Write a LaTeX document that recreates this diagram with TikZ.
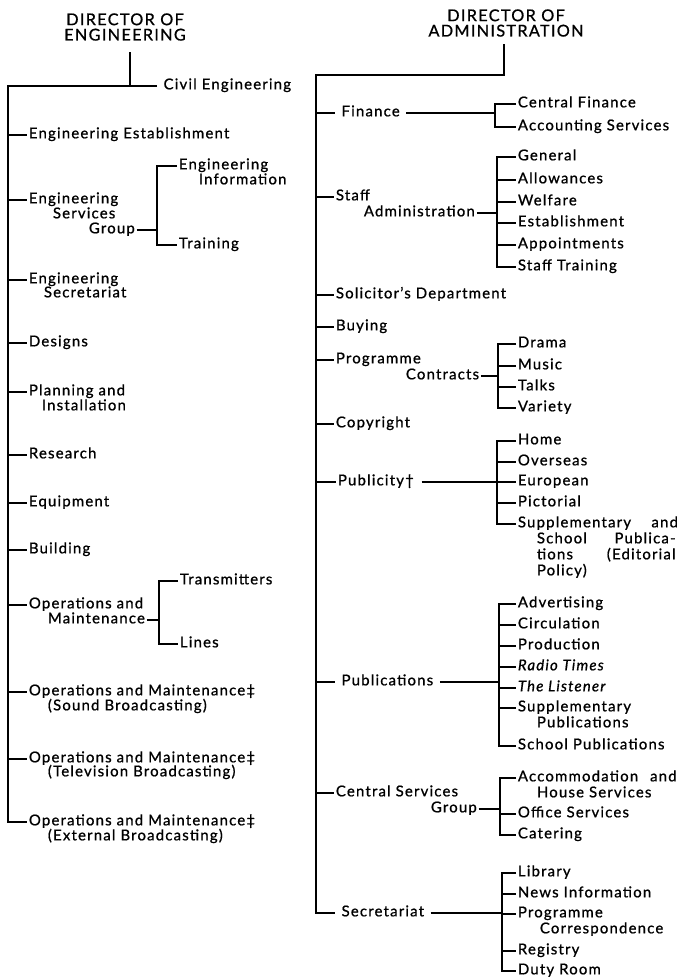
\documentclass[tikz,border=0pt]{standalone}
\usepackage{fontspec}
\setmainfont[LetterSpace=8, FakeBold=0.9]{Lato}

\begin{document}
\begin{tikzpicture}[x=0.75pt, y=-0.75pt, line width=0.9pt,
  font=\fontsize{11.2}{13}\selectfont,
  unit/.style={anchor=west, inner xsep=1pt, inner ysep=0pt, text height=5pt, text depth=0pt},
  spaced/.style={unit, inner xsep=4.5pt},
  title/.style={align=center, inner sep=0pt, font=\fontsize{12.2}{11.5}\selectfont}]
\useasboundingbox (0,0) rectangle (680,979);

% Directors:
\node[title] (eng) at (125,27) {DIRECTOR OF\\ENGINEERING};
\node[title] (admin) at (506,23) {DIRECTOR OF\\ADMINISTRATION};

% Engineering side:
\coordinate (ltrunk) at (8,0);
\coordinate (ljoin) at (130,86);
\coordinate (esgbr) at (157,0);
\coordinate (ombr) at (159,0);
\node[spaced] (civil) at (157,86) {Civil Engineering};
\node[unit] (estab) at (27,135) {Engineering Establishment};
\node[unit] (esg1) at (27,200) {Engineering};
\node[unit] (esg2) at (51,215) {Services};
\node[unit] (esg3) at (87,230) {Group};
\node[unit] (enginfo1) at (177,166) {Engineering};
\node[unit] (enginfo2) at (197,181) {Information};
\node[unit] (training) at (177,245) {Training};
\node[unit] (engsec1) at (27,280) {Engineering};
\node[unit] (engsec2) at (42,294) {Secretariat};
\node[unit] (designs) at (27,343) {Designs};
\node[unit] (plan1) at (27,392) {Planning and};
\node[unit] (plan2) at (40,407) {Installation};
\node[unit] (research) at (27,455) {Research};
\node[unit] (equip) at (27,503) {Equipment};
\node[unit] (building) at (27,550) {Building};
\node[unit] (om1) at (27,605) {Operations and};
\node[unit] (om2) at (46,620) {Maintenance};
\node[unit] (transm) at (178,581) {Transmitters};
\node[unit] (lines) at (178,644) {Lines};
\node[unit] (oms1) at (27,692) {Operations and Maintenance‡};
\node[unit] (oms2) at (46,707) {(Sound Broadcasting)};
\node[unit] (omt1) at (27,759) {Operations and Maintenance‡};
\node[unit] (omt2) at (46,773) {(Television Broadcasting)};
\node[unit] (ome1) at (27,822) {Operations and Maintenance‡};
\node[unit] (ome2) at (46,837) {(External Broadcasting)};

\draw (eng.south -| ljoin) ++(0,11) -- (ljoin);
\draw (civil.west) -- (ltrunk |- civil.west) -- (ltrunk |- ome1.west) -- (ome1.west);
\foreach \n in {estab,esg1,engsec1,designs,plan1,research,equip,building,om1,oms1,omt1}
  \draw (ltrunk |- \n.west) -- (\n.west);
\draw (esg3.east) -- (esgbr |- esg3.east);
\draw (enginfo1.west) -- (esgbr |- enginfo1.west) -- (esgbr |- training.west) -- (training.west);
\draw (om2.east) -- (ombr |- om2.east);
\draw (transm.west) -- (ombr |- transm.west) -- (ombr |- lines.west) -- (lines.west);

% Administration side:
\coordinate (rtrunk) at (316,0);
\coordinate (rjoin) at (504,75);
\coordinate (fbr) at (495,0);
\coordinate (sbr) at (497,0);
\coordinate (pcbr) at (498,0);
\coordinate (pbbr) at (497,0);
\coordinate (pubbr) at (499,0);
\coordinate (csbr) at (500,0);
\coordinate (secbr) at (502,0);
\node[spaced] (finance) at (335,113) {Finance};
\node[unit] (cfin) at (516,104) {Central Finance};
\node[unit] (acct) at (516,127) {Accounting Services};
\node[unit] (staff1) at (334,197) {Staff};
\node[unit] (staff2) at (362,213) {Administration};
\node[unit] (general) at (516,157) {General};
\node[unit] (allow) at (516,180) {Allowances};
\node[unit] (welfare) at (516,202) {Welfare};
\node[unit] (sestab) at (516,223) {Establishment};
\node[unit] (appoint) at (516,245) {Appointments};
\node[unit] (strain) at (516,267) {Staff Training};
\node[unit] (solicitor) at (334,295) {Solicitor’s Department};
\node[unit] (buying) at (334,327) {Buying};
\node[unit] (pc1) at (334,360) {Programme};
\node[unit] (pc2) at (404,376) {Contracts};
\node[unit] (drama) at (516,344) {Drama};
\node[unit] (music) at (516,366) {Music};
\node[unit] (talks) at (516,387) {Talks};
\node[unit] (variety) at (516,408) {Variety};
\node[unit] (copyright) at (334,424) {Copyright};
\node[unit] (publicity) at (336,482) {Publicity†};
\node[unit] (home) at (516,441) {Home};
\node[unit] (overseas) at (516,462) {Overseas};
\node[unit] (european) at (516,482) {European};
\node[unit] (pictorial) at (516,503) {Pictorial};
\node[unit] (sup1) at (516,524) {\makebox[120pt][s]{Supplementary and}};
\node[unit] (sup2) at (535,540) {\makebox[104pt][s]{School Publica-}};
\node[unit] (sup3) at (535,556) {\makebox[104pt][s]{tions (Editorial}};
\node[unit] (sup4) at (535,572) {Policy)};
\node[spaced] (publications) at (335,682) {Publications};
\node[unit] (advert) at (516,604) {Advertising};
\node[unit] (circ) at (516,625) {Circulation};
\node[unit] (prod) at (516,646) {Production};
\node[unit] (radio) at (516,667) {\itshape Radio Times};
\node[unit] (listener) at (516,688) {\itshape The Listener};
\node[unit] (supp1) at (516,708) {Supplementary};
\node[unit] (supp2) at (535,724) {Publications};
\node[unit] (school) at (516,746) {School Publications};
\node[unit] (csg1) at (334,793) {Central Services};
\node[unit] (csg2) at (429,809) {Group};
\node[unit] (accom1) at (516,778) {\makebox[119pt][s]{Accommodation and}};
\node[unit] (accom2) at (535,794) {House Services};
\node[unit] (office) at (516,814) {Office Services};
\node[unit] (catering) at (516,835) {Catering};
\node[spaced] (secretariat) at (335,913) {Secretariat};
\node[unit] (library) at (516,873) {Library};
\node[unit] (news) at (516,894) {News Information};
\node[unit] (pcorr1) at (516,914) {Programme};
\node[unit] (pcorr2) at (538,930) {Correspondence};
\node[unit] (registry) at (516,951) {Registry};
\node[unit] (duty) at (516,971) {Duty Room};

\draw (admin.south -| rjoin) ++(0,7) -- (rjoin) -- (rtrunk |- rjoin) -- (rtrunk |- secretariat.west) -- (secretariat.west);
\foreach \n in {finance,staff1,solicitor,buying,pc1,copyright,publicity,publications,csg1}
  \draw (rtrunk |- \n.west) -- (\n.west);
\draw (finance.east) -- (fbr |- finance.east);
\draw (cfin.west) -- (fbr |- cfin.west) -- (fbr |- acct.west) -- (acct.west);
\draw (staff2.east) -- (sbr |- staff2.east);
\draw (general.west) -- (sbr |- general.west) -- (sbr |- strain.west) -- (strain.west);
\foreach \n in {allow,welfare,sestab,appoint}
  \draw (sbr |- \n.west) -- (\n.west);
\draw (pc2.east) -- (pcbr |- pc2.east);
\draw (drama.west) -- (pcbr |- drama.west) -- (pcbr |- variety.west) -- (variety.west);
\foreach \n in {music,talks}
  \draw (pcbr |- \n.west) -- (\n.west);
\draw ([xshift=4.5pt]publicity.east) -- (pbbr |- publicity.east);
\draw (home.west) -- (pbbr |- home.west) -- (pbbr |- sup1.west) -- (sup1.west);
\foreach \n in {overseas,european,pictorial}
  \draw (pbbr |- \n.west) -- (\n.west);
\draw (publications.east) -- (pubbr |- publications.east);
\draw (advert.west) -- (pubbr |- advert.west) -- (pubbr |- school.west) -- (school.west);
\foreach \n in {circ,prod,radio,listener,supp1}
  \draw (pubbr |- \n.west) -- (\n.west);
\draw (csg2.east) -- (csbr |- csg2.east);
\draw (accom1.west) -- (csbr |- accom1.west) -- (csbr |- catering.west) -- (catering.west);
\draw (csbr |- office.west) -- (office.west);
\draw (secretariat.east) -- (secbr |- secretariat.east);
\draw (library.west) -- (secbr |- library.west) -- (secbr |- duty.west) -- (duty.west);
\foreach \n in {news,pcorr1,registry}
  \draw (secbr |- \n.west) -- (\n.west);
\end{tikzpicture}
\end{document}
